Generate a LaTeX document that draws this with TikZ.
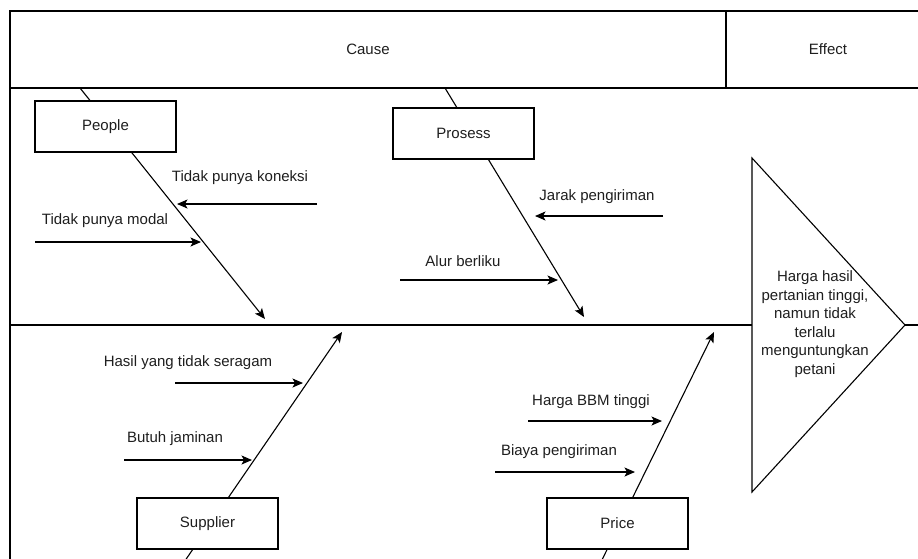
\documentclass[tikz,border=0pt]{standalone}
\usepackage{fontspec}
\setmainfont{Liberation Sans}
\usetikzlibrary{arrows.meta}
\definecolor{ink}{HTML}{1E1E1E}
\begin{document}
\begin{tikzpicture}[x=1pt,y=-1pt,
  line/.style={draw=black,line width=1.1pt},
  bone/.style={line,-{Stealth[length=10.5pt,width=9pt,inset=2.5pt]}},
  cause/.style={line,-{Stealth[length=10.5pt,width=9pt,inset=2.5pt]}},
  catbox/.style={draw=black,line width=1.1pt,fill=white,minimum width=141pt,minimum height=51pt,inner sep=0pt,text=ink},
  lbl/.style={text=ink,inner sep=0pt,anchor=center},
  every node/.append style={font=\fontsize{15}{18.5}\selectfont}]
\useasboundingbox (0,0) rectangle (918,558);
\clip (0,0) rectangle (918,558);

% frame and header
\draw[line] (10,570) -- (10,11) -- (930,11);
\draw[line] (10,88) -- (930,88);
\draw[line] (726,11) -- (726,88);
\node[lbl] (causehdr) at (368,49) {Cause};
\node[lbl] (effecthdr) at (828,49) {Effect};

% spine
\coordinate (spineL) at (10,325);
\coordinate (spineR) at (930,325);
\draw[line] (spineL) -- (spineR);

% bones
\coordinate (pplTail) at (80,88);    \coordinate (pplHead) at (265,319);
\coordinate (proTail) at (445,88);   \coordinate (proHead) at (584,317);
\coordinate (supTail) at (180,568);  \coordinate (supHead) at (342,332);
\coordinate (priTail) at (598,568);  \coordinate (priHead) at (714,332);
\draw[bone] (pplTail) -- (pplHead);
\draw[bone] (proTail) -- (proHead);
\draw[bone] (supTail) -- (supHead);
\draw[bone] (priTail) -- (priHead);

% category boxes
\node[catbox] (people) at (105.5,126.5) {People};
\node[catbox] (prosess) at (463.5,133.5) {Prosess};
\node[catbox] (supplier) at (207.5,523.5) {Supplier};
\node[catbox] (price) at (617.5,523.5) {Price};

% causes: People
\coordinate (c1s) at (317,204); \coordinate (c1e) at (177,204);
\draw[cause] (c1s) -- (c1e);
\node[lbl] (c1) at (240,178) {Tidak punya koneksi};
\coordinate (c2s) at (35,242); \coordinate (c2e) at (201,242);
\draw[cause] (c2s) -- (c2e);
\node[lbl] (c2) at (105,221) {Tidak punya modal};

% causes: Prosess
\coordinate (c3s) at (663,216); \coordinate (c3e) at (535,216);
\draw[cause] (c3s) -- (c3e);
\node[lbl] (c3) at (597,197) {Jarak pengiriman};
\coordinate (c4s) at (400,280); \coordinate (c4e) at (558,280);
\draw[cause] (c4s) -- (c4e);
\node[lbl] (c4) at (463,261) {Alur berliku};

% causes: Supplier
\coordinate (c5s) at (175,383); \coordinate (c5e) at (303,383);
\draw[cause] (c5s) -- (c5e);
\node[lbl] (c5) at (188,363) {Hasil yang tidak seragam};
\coordinate (c6s) at (124,460); \coordinate (c6e) at (252,460);
\draw[cause] (c6s) -- (c6e);
\node[lbl] (c6) at (175,439) {Butuh jaminan};

% causes: Price
\coordinate (c7s) at (528,421); \coordinate (c7e) at (662,421);
\draw[cause] (c7s) -- (c7e);
\node[lbl] (c7) at (591,402) {Harga BBM tinggi};
\coordinate (c8s) at (495,472); \coordinate (c8e) at (635,472);
\draw[cause] (c8s) -- (c8e);
\node[lbl] (c8) at (559,452) {Biaya pengiriman};

% effect head
\draw[line,fill=white,line join=miter] (752,158) -- (905,325) -- (752,492) -- cycle;
\node[lbl,align=center] (effect) at (815,324)
  {Harga hasil\\pertanian tinggi,\\namun tidak\\terlalu\\menguntungkan\\petani};
\end{tikzpicture}
\end{document}
